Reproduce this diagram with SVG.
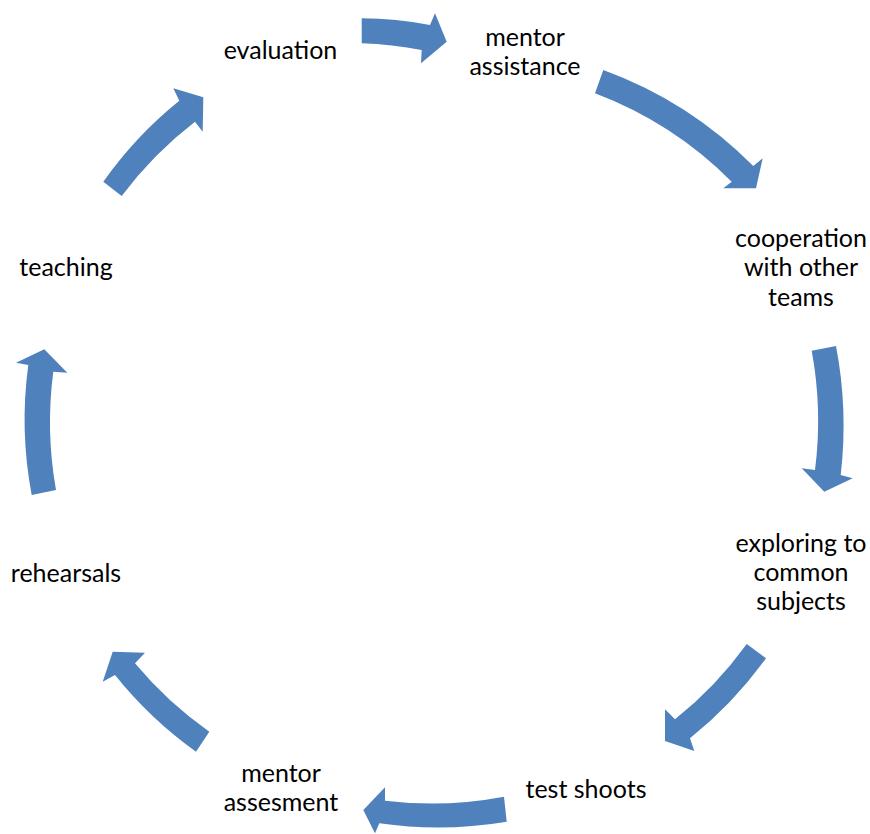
<svg xmlns="http://www.w3.org/2000/svg" width="870" height="834" viewBox="0 0 870 834">
<style>
.lbl{font-family:Lato,"Liberation Sans",sans-serif;font-size:25px;fill:#000;text-anchor:middle}
.arr{fill:#4F81BD;stroke:none}
</style>
<rect width="870" height="834" fill="#fff"/>
<g id="connectors">
<path class="arr" d="M361.7,18.3 Q396,18.5 430,25 L435,13.3 L446.7,41.7 L421,63.3 L421.7,50 Q392,44.5 361.7,43.3 Z"/>
<path class="arr" d="M603.3,70 Q689,101.3 753.3,166 L762.7,158.3 L756,188.3 L723.3,188.3 L731.7,181.7 Q672.8,122.7 595,93.3 Z"/>
<path class="arr" d="M811.7,350.7 L836,346 Q848.3,410 840.7,475 L852.7,478.3 L824.3,491.7 L801.7,468.3 L815,470 Q822.7,410 811.7,350.7 Z"/>
<path class="arr" d="M746.7,644 L766,658.3 Q733.5,703.5 690,738.3 L694.3,751 L665,741 L665,709.3 L675,719.3 Q716,686.7 746.7,644 Z"/>
<path class="arr" d="M504,796.7 L506.7,821.7 Q443,832.5 379.3,823.3 L375,833.3 L363.3,810 L385,787.3 L385,800.7 Q444.5,808 504,796.7 Z"/>
<path class="arr" d="M112.7,651.7 L145,652.7 L135,663.3 Q167.6,702.5 209.3,731.7 L196,751.7 Q150.2,719 115,675 L102.7,681.7 Z"/>
<path class="arr" d="M44.3,349.3 L67.3,372.7 L53.3,371.7 Q45.5,430.8 56,490 L31.7,495 Q19.4,430 28.3,365 L16,362.7 Z"/>
<path class="arr" d="M203.3,97.3 L202.7,131.7 L195,121.7 Q153.2,153.8 121.7,196 L103.3,181.7 Q135.8,135.7 179.3,100.7 L173.3,88.3 Z"/>
</g>
<g id="node-evaluation"><text class="lbl" x="280.5" y="59">evaluation</text></g>
<g id="node-mentor-assistance"><text class="lbl" x="525" y="46">mentor</text><text class="lbl" x="525" y="75">assistance</text></g>
<g id="node-cooperation"><text class="lbl" x="801" y="246.5">cooperation</text><text class="lbl" x="801" y="276">with other</text><text class="lbl" x="801" y="305.5">teams</text></g>
<g id="node-exploring"><text class="lbl" x="801" y="552">exploring to</text><text class="lbl" x="801" y="581">common</text><text class="lbl" x="801" y="610">subjects</text></g>
<g id="node-test-shoots"><text class="lbl" x="586" y="798">test shoots</text></g>
<g id="node-mentor-assesment"><text class="lbl" x="281" y="782">mentor</text><text class="lbl" x="281" y="811">assesment</text></g>
<g id="node-rehearsals"><text class="lbl" x="66" y="582">rehearsals</text></g>
<g id="node-teaching"><text class="lbl" x="66" y="276">teaching</text></g>
</svg>
